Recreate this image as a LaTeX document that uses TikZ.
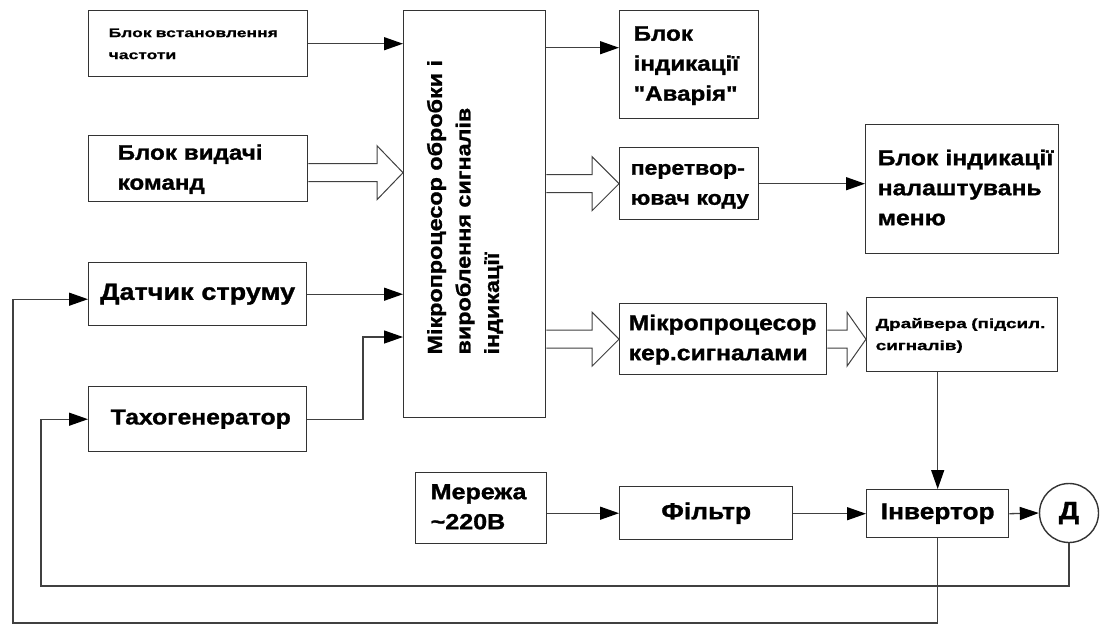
\documentclass[tikz,border=0pt]{standalone}
\usepackage{fontspec}
\setmainfont{Liberation Sans}
\newfontfamily\mainfont[FakeStretch=1.15,FakeBold=1.2]{Liberation Sans}
\newfontfamily\widefont[FakeStretch=1.4,FakeBold=1]{Liberation Sans}
\usetikzlibrary{arrows.meta,calc}

\newcommand\fs[2]{\fontsize{#1}{#2}\selectfont}
% unbreakable stack of left-aligned lines
\newcommand\lines[1]{\begin{tabular}{@{}l@{}}#1\end{tabular}}

% hollow (bus) arrow: #1 start point, #2 tip, #3 head length
\newcommand\fatarrow[3]{%
  \draw[fat] let \p1=#1, \p2=#2 in
    (\x1,\y2+9pt) -- (\x2-#3,\y2+9pt) -- (\x2-#3,\y2+27pt) -- (\x2,\y2)
    -- (\x2-#3,\y2-27pt) -- (\x2-#3,\y2-9pt) -- (\x1,\y2-9pt);}

\tikzset{
  box/.style={draw=black!80, line width=1.4pt, fill=white, anchor=north west,
    inner ysep=0pt, align=left},
  wire/.style={draw=black!75, line width=1.3pt},
  arr/.style={wire, -{Triangle[length=19pt,width=13pt,fill=black,color=black]}},
  fat/.style={draw=black!75, line width=1pt, fill=white},
  big/.style={font=\mainfont\bfseries\fs{#1}{30}},
  big/.default=19.5,
  small/.style={font=\widefont\bfseries\fs{12.5}{22}},
}

\begin{document}
\begin{tikzpicture}[x=1pt,y=-1pt]
\useasboundingbox (0,0) rectangle (1100,625);

% left column
\node[box, small, minimum width=219pt, minimum height=66pt, text width=179pt, inner xsep=20pt]
  (freq) at (88,10) {\lines{Блок встановлення\\частоти}};
\node[box, big=21, minimum width=219pt, minimum height=66pt, text width=161pt, inner xsep=29pt]
  (cmd) at (88,135) {\lines{Блок видачі\\команд}};
\node[box, big=23.5, minimum width=218pt, minimum height=63pt, text width=208pt, inner xsep=5pt, align=center]
  (cur) at (88,262) {Датчик струму};
\node[box, big=21.5, minimum width=218pt, minimum height=65pt, text width=174pt, inner xsep=22pt]
  (tacho) at (88,386) {Тахогенератор};

% central processor
\node[box, font=\mainfont\bfseries\fs{20.3}{28.5}, minimum width=142pt, minimum height=407pt, inner xsep=0pt, align=center]
  (mcu) at (403,10) {\rotatebox{90}{\begin{tabular}{@{\hspace{14pt}}l@{}}Мікропроцесор обробки і\\
    вироблення сигналів\\індикації\\[20pt]\end{tabular}}};

% right column
\node[box, big=21, minimum width=139pt, minimum height=108pt, text width=111pt, inner xsep=14pt]
  (alarm) at (619,10) {\lines{Блок\\індикації\\"Аварія"}};
\node[box, big=20, minimum width=139pt, minimum height=72pt, text width=117pt, inner xsep=11pt]
  (conv) at (619,147) {\lines{перетвор-\\ювач коду}};
\node[box, big=21.5, minimum width=193pt, minimum height=129pt, text width=169pt, inner xsep=12pt]
  (menu) at (865,124) {\lines{Блок індикації\\налаштувань\\меню}};
\node[box, big=21.5, minimum width=207pt, minimum height=71pt, text width=189pt, inner xsep=9pt]
  (ctrl) at (619,303) {\lines{Мікропроцесор\\кер.сигналами}};
\node[box, font=\widefont\bfseries\fs{13.5}{22}, minimum width=191pt, minimum height=74pt, text width=173pt, inner xsep=9pt]
  (drv) at (866,297) {\lines{Драйвера (підсил.\\сигналів)}};

% power section
\node[box, big=21.8, minimum width=131pt, minimum height=71pt, text width=101pt, inner xsep=15pt]
  (mains) at (415,472) {\lines{Мережа\\\textasciitilde220В}};
\node[box, big=23, minimum width=173pt, minimum height=53pt, text width=153pt, inner xsep=10pt, align=center]
  (filt) at (619,486) {Фільтр};
\node[box, big=22.8, minimum width=142pt, minimum height=48pt, text width=138pt, inner xsep=2pt, align=center]
  (inv) at (866,489) {Інвертор};
\node[draw=black!80, line width=1.4pt, fill=white, circle, minimum size=59pt, inner sep=0pt, big=25]
  (motor) at (1069,513) {Д};

% signal connections into the processor
\draw[arr] (freq.east) -- (freq.east -| mcu.west);
\path (cmd.east) ++(0,4) coordinate (cmdout);
\fatarrow{(cmdout)}{(cmdout -| mcu.west)}{26pt}
\draw[arr] (cur.east) -- (cur.east -| mcu.west);
\coordinate (tbend) at (363,337);
\draw[arr] (tacho.east) -| (tbend) -- (tbend -| mcu.west);

% processor outputs
\path (alarm.west) ++(0,-17) coordinate (alarmin);
\draw[arr] (alarmin -| mcu.east) -- (alarmin);
\fatarrow{(mcu.east)}{(conv.west)}{27pt}
\draw[arr] (conv.east) -- (conv.east -| menu.west);
\fatarrow{(mcu.east)}{(ctrl.west)}{27pt}
\fatarrow{(ctrl.east)}{(ctrl.east -| drv.west)}{19pt}
\draw[arr] (drv.south -| inv.north) -- (inv.north);

% power chain
\draw[arr] (mains.east |- filt.west) -- (filt.west);
\draw[arr] (filt.east |- inv.west) -- (inv.west);
\draw[arr] (inv.east) -- (motor.west);

% feedback loops
\path (cur.west) ++(0,5) coordinate (curin);
\coordinate (fbouter) at (13,623);
\draw[arr] (inv.south) |- (fbouter) |- (curin);
\coordinate (fbinner) at (41,586);
\draw[arr] (motor.south) |- (fbinner) |- (tacho.west);
\end{tikzpicture}
\end{document}
